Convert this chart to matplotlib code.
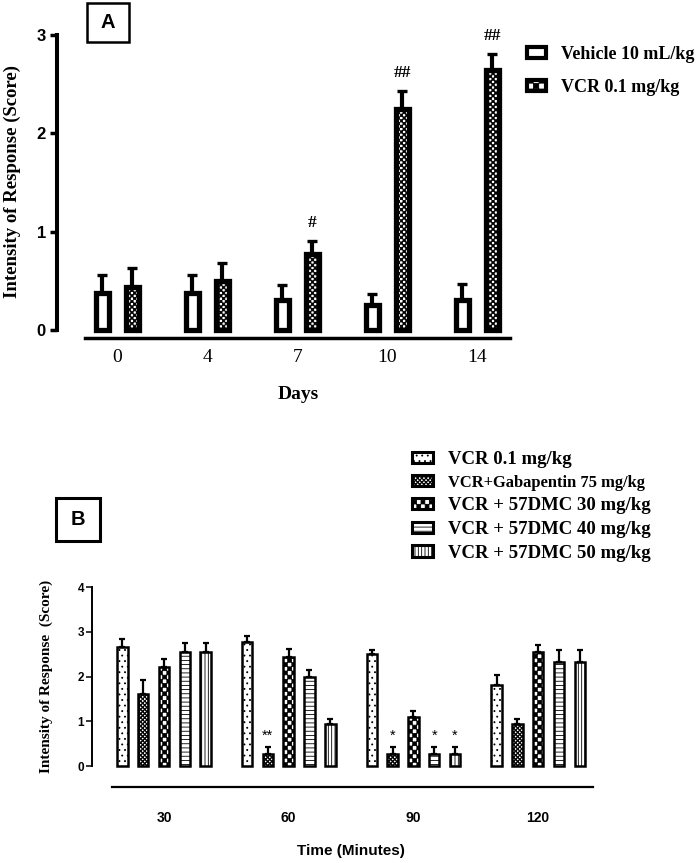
import warnings
import numpy as np
import matplotlib
matplotlib.use('Agg')
import matplotlib.pyplot as plt
import matplotlib.hatch as mhatch
from matplotlib.path import Path
from matplotlib.patches import Patch, Rectangle

warnings.filterwarnings('ignore')

# ---- data, panel A ----
days = ['0', '4', '7', '10', '14']
vehicle_mean = [0.375, 0.375, 0.31, 0.25, 0.31]
vehicle_err = [0.185, 0.185, 0.15, 0.12, 0.16]
vcr_mean = [0.44, 0.50, 0.77, 2.25, 2.64]
vcr_err = [0.19, 0.18, 0.14, 0.18, 0.17]
marks_a = ['', '', '#', '##', '##']
legend_a = ['Vehicle 10 mL/kg', 'VCR 0.1 mg/kg']

# ---- data, panel B ----
minutes = ['30', '60', '90', '120']
groups_b = ['VCR 0.1 mg/kg', 'VCR+Gabapentin 75 mg/kg', 'VCR + 57DMC 30 mg/kg',
            'VCR + 57DMC 40 mg/kg', 'VCR + 57DMC 50 mg/kg']
means_b = [[2.66, 2.77, 2.50, 1.82],
           [1.60, 0.27, 0.27, 0.94],
           [2.21, 2.44, 1.10, 2.54],
           [2.55, 1.99, 0.27, 2.33],
           [2.55, 0.94, 0.27, 2.33]]
errs_b = [[0.17, 0.14, 0.10, 0.21],
          [0.32, 0.16, 0.16, 0.12],
          [0.19, 0.18, 0.13, 0.16],
          [0.21, 0.15, 0.16, 0.26],
          [0.19, 0.12, 0.16, 0.26]]
stars_b = [['', '', '', ''],
           ['', '**', '*', ''],
           ['', '', '', ''],
           ['', '', '*', ''],
           ['', '', '*', '']]


class CheckerHatch(mhatch.HatchPatternBase):
    # 'c' in a hatch string gives a filled checkerboard
    def __init__(self, hatch, density):
        n = int(hatch.count('c') * density)
        self.n = n + (n % 2)
        self.num_vertices = 5 * (self.n * self.n // 2) if n else 0

    def set_vertices_and_codes(self, vertices, codes):
        step = 1.0 / self.n
        ins = 0.002
        k = 0
        for i in range(self.n):
            for j in range(self.n):
                if (i + j) % 2:
                    continue
                x0, y0 = i * step + ins, j * step + ins
                x1, y1 = (i + 1) * step - ins, (j + 1) * step - ins
                vertices[k:k + 5] = [(x0, y0), (x1, y0), (x1, y1), (x0, y1), (x0, y0)]
                codes[k] = Path.MOVETO
                codes[k + 1:k + 4] = Path.LINETO
                codes[k + 4] = Path.CLOSEPOLY
                k += 5


mhatch._hatch_types.append(CheckerHatch)

plt.rcParams['hatch.linewidth'] = 0.6
SERIF = 'Liberation Serif'
SANS = 'Liberation Sans'

W, H = 699, 863
fig = plt.figure(figsize=(W / 100, H / 100), dpi=100)


def fx(px):
    return px / W


def fy(px):
    return 1 - px / H


# ================= Panel A =================
axA = fig.add_axes([fx(57), fy(338), fx(458), 303 / H])
xa = np.arange(len(days))
off_a = 15 / 90
bw_a = 0.152
axA.bar(xa - off_a, vehicle_mean, bw_a, facecolor='white', edgecolor='black', lw=3.8,
        yerr=[np.zeros(len(days)), vehicle_err],
        error_kw=dict(ecolor='black', elinewidth=3.0, capsize=3.6, capthick=2.4), zorder=3)
axA.bar(xa + off_a, vcr_mean, bw_a, facecolor='white', edgecolor='black', lw=3.8,
        hatch='cccccc',
        yerr=[np.zeros(len(days)), vcr_err],
        error_kw=dict(ecolor='black', elinewidth=3.0, capsize=3.6, capthick=2.4), zorder=3)
for i, m in enumerate(marks_a):
    if m:
        axA.text(xa[i] + off_a, vcr_mean[i] + vcr_err[i] + 0.1, m, ha='center', va='bottom',
                 fontsize=12.5, fontweight='bold', family=SERIF)

axA.set_xlim(-0.672, 4.417)
axA.set_ylim(-0.081, 3)
for s in ['top', 'right']:
    axA.spines[s].set_visible(False)
axA.spines['left'].set_bounds(0, 3)
axA.spines['left'].set_linewidth(2.9)
axA.spines['bottom'].set_bounds(-0.36, 4.36)
axA.spines['bottom'].set_linewidth(2.5)
axA.set_yticks([0, 1, 2, 3])
axA.set_yticklabels(['0', '1', '2', '3'], fontsize=12, fontweight='bold', family=SANS)
axA.tick_params(axis='y', direction='out', length=5, width=2.5, pad=3)
axA.set_xticks(xa)
axA.set_xticklabels(days, fontsize=14, family=SERIF)
axA.tick_params(axis='x', length=0, pad=8)
axA.set_ylabel('Intensity of Response (Score)', fontsize=13.5, fontweight='bold', family=SERIF)
axA.yaxis.set_label_coords(-0.079, 0.515)
axA.set_xlabel('Days', fontsize=14, fontweight='bold', family=SERIF, va='top')
axA.xaxis.set_label_coords(0.526, -0.16)

hA = [Patch(facecolor='white', edgecolor='black', lw=3.0),
      Patch(facecolor='white', edgecolor='black', lw=3.0, hatch='ccc')]
legA = fig.legend(hA, legend_a, loc='upper left', bbox_to_anchor=(fx(527), fy(46)),
                  frameon=False, handlelength=1.05, handleheight=0.55, handletextpad=0.85,
                  labelspacing=0.88, borderpad=0, borderaxespad=0,
                  prop=dict(family=SERIF, weight='bold', size=13))

fig.add_artist(Rectangle((fx(87), fy(42)), fx(42), 39 / H, transform=fig.transFigure,
                         fill=False, edgecolor='black', lw=1.8))
fig.text(fx(108), fy(22.5), 'A', ha='center', va='center', fontsize=14.5,
         fontweight='bold', family=SANS)

# ================= Panel B =================
axB = fig.add_axes([fx(92), fy(787), fx(508), 200 / H])
xb = np.arange(len(minutes))
off_b = 20.8 / 124.7
bw_b = 0.084
hatches_b = ['...', 'cccccccc', 'cccc', '----', '|||||']
for k in range(len(groups_b)):
    pos = xb + (k - 2) * off_b
    axB.bar(pos, means_b[k], bw_b, facecolor='white', edgecolor='black', lw=1.8,
            hatch=hatches_b[k], label=groups_b[k],
            yerr=[np.zeros(len(minutes)), errs_b[k]],
            error_kw=dict(ecolor='black', elinewidth=1.6, capsize=2.4, capthick=1.6), zorder=3)
    for i, s in enumerate(stars_b[k]):
        if s:
            axB.text(pos[i], means_b[k][i] + errs_b[k][i] + 0.08, s, ha='center', va='bottom',
                     fontsize=10.5, family=SANS)

axB.set_xlim(-0.577, 3.496)
axB.set_ylim(-0.468, 4)
for s in ['top', 'right']:
    axB.spines[s].set_visible(False)
axB.spines['left'].set_bounds(0, 4)
axB.spines['left'].set_linewidth(1.4)
axB.spines['bottom'].set_bounds(-0.417, 3.44)
axB.spines['bottom'].set_linewidth(1.6)
axB.set_yticks([0, 1, 2, 3, 4])
axB.set_yticklabels(['0', '1', '2', '3', '4'], fontsize=8.5, fontweight='bold', family=SANS)
axB.tick_params(axis='y', direction='out', length=4.3, width=1.1, pad=1.5)
axB.set_xticks(xb)
axB.set_xticklabels(minutes, fontsize=10, fontweight='bold', family=SANS)
axB.tick_params(axis='x', length=0, pad=17)
axB.set_ylabel('Intensity of Response  (Score)', fontsize=11, fontweight='bold', family=SERIF)
axB.yaxis.set_label_coords(-0.077, 0.555)
axB.set_xlabel('Time (Minutes)', fontsize=11, fontweight='bold', family=SANS, va='top')
axB.xaxis.set_label_coords(0.51, -0.285)

hB = [Patch(facecolor='white', edgecolor='black', lw=2.2, hatch=h) for h in hatches_b]
legB = fig.legend(hB, groups_b, loc='upper left', bbox_to_anchor=(fx(412), fy(451)),
                  frameon=False, handlelength=1.1, handleheight=0.55, handletextpad=0.8,
                  labelspacing=0.35, borderpad=0, borderaxespad=0,
                  prop=dict(family=SERIF, weight='bold', size=13.5))
legB.get_texts()[1].set_fontsize(11.9)

fig.add_artist(Rectangle((fx(56), fy(541)), fx(44), 43 / H, transform=fig.transFigure,
                         fill=False, edgecolor='black', lw=2.2))
fig.text(fx(78), fy(519.5), 'B', ha='center', va='center', fontsize=14.5,
         fontweight='bold', family=SANS)

fig.savefig('out.png', dpi=100, facecolor='white')
